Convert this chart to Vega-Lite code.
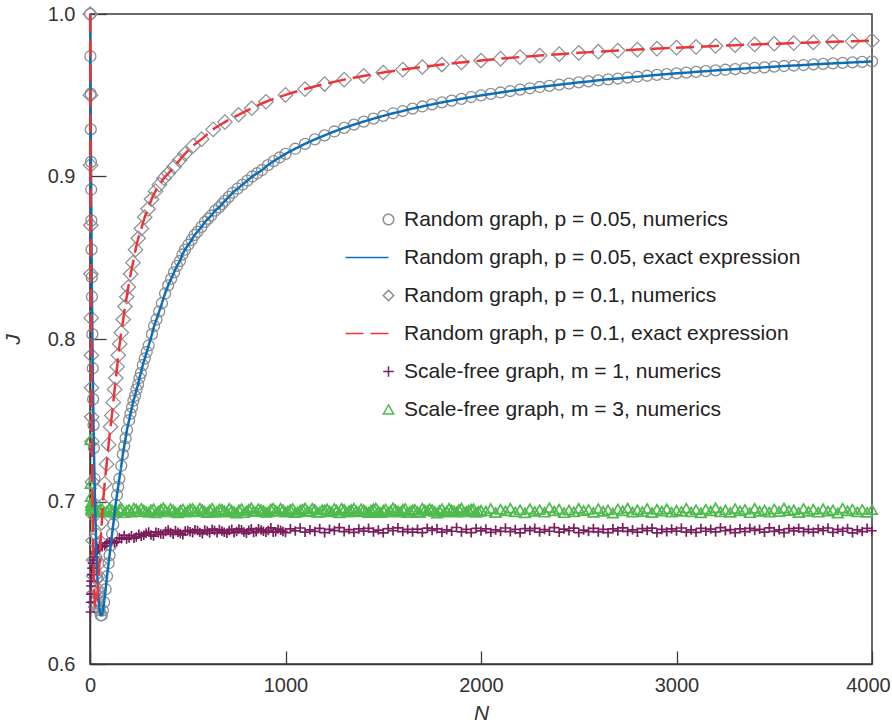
{
"$schema":"https://vega.github.io/schema/vega-lite/v6.json",
"width":782,"height":650,
"autosize":{"type":"none"},
"padding":{"left":90,"top":14,"right":20,"bottom":59},
"background":"white",
"config":{
"view":{"stroke":"#3a3a3a","strokeWidth":1.5},
"font":"Liberation Sans",
"axis":{"domainColor":"#3a3a3a","domainWidth":1.5,"tickColor":"#3a3a3a","tickWidth":1.3,"grid":false,"labelFont":"Liberation Sans","labelFontSize":20,"labelColor":"#333333","titleFont":"Liberation Sans","titleFontSize":21,"titleFontStyle":"italic","titleFontWeight":"normal","titleColor":"#333333"}
},
"datasets":{
"p05":[{"N":1,"J":1.0},{"N":2,"J":0.974},{"N":3,"J":0.951},{"N":4,"J":0.929},{"N":5,"J":0.909},{"N":6,"J":0.892},{"N":7,"J":0.873},{"N":8,"J":0.855},{"N":9,"J":0.838},{"N":10,"J":0.826},{"N":12,"J":0.803},{"N":14,"J":0.782},{"N":16,"J":0.763},{"N":18,"J":0.747},{"N":20,"J":0.733},{"N":23,"J":0.714},{"N":26,"J":0.698},{"N":30,"J":0.68},{"N":34,"J":0.665},{"N":38,"J":0.653},{"N":42,"J":0.644},{"N":46,"J":0.637},{"N":50,"J":0.633},{"N":55,"J":0.63},{"N":60,"J":0.63},{"N":66,"J":0.633},{"N":72,"J":0.638},{"N":80,"J":0.646},{"N":87,"J":0.654},{"N":95,"J":0.662},{"N":100,"J":0.667},{"N":106,"J":0.673},{"N":113,"J":0.68},{"N":119,"J":0.686},{"N":125,"J":0.692},{"N":131,"J":0.698},{"N":138,"J":0.704},{"N":144,"J":0.709},{"N":150,"J":0.714},{"N":160,"J":0.722},{"N":168,"J":0.729},{"N":175,"J":0.734},{"N":182,"J":0.739},{"N":189,"J":0.744},{"N":200,"J":0.75},{"N":207,"J":0.754},{"N":215,"J":0.758},{"N":222,"J":0.762},{"N":230,"J":0.765},{"N":238,"J":0.769},{"N":246,"J":0.772},{"N":253,"J":0.776},{"N":260,"J":0.779},{"N":270,"J":0.784},{"N":280,"J":0.788},{"N":290,"J":0.792},{"N":300,"J":0.796},{"N":317,"J":0.803},{"N":328,"J":0.808},{"N":340,"J":0.812},{"N":354,"J":0.817},{"N":368,"J":0.822},{"N":384,"J":0.828},{"N":400,"J":0.833},{"N":415,"J":0.837},{"N":430,"J":0.841},{"N":445,"J":0.845},{"N":460,"J":0.848},{"N":473,"J":0.852},{"N":486,"J":0.855},{"N":503,"J":0.858},{"N":520,"J":0.861},{"N":535,"J":0.864},{"N":550,"J":0.866},{"N":570,"J":0.869},{"N":588,"J":0.872},{"N":604,"J":0.874},{"N":620,"J":0.876},{"N":640,"J":0.879},{"N":660,"J":0.881},{"N":675,"J":0.883},{"N":690,"J":0.885},{"N":710,"J":0.8875},{"N":730,"J":0.89},{"N":755,"J":0.8925},{"N":780,"J":0.895},{"N":805,"J":0.8975},{"N":830,"J":0.9},{"N":855,"J":0.902},{"N":880,"J":0.904},{"N":910,"J":0.907},{"N":940,"J":0.9095},{"N":970,"J":0.9117},{"N":1000,"J":0.9139},{"N":1050,"J":0.9171},{"N":1100,"J":0.9201},{"N":1150,"J":0.9228},{"N":1200,"J":0.9253},{"N":1250,"J":0.9277},{"N":1300,"J":0.9299},{"N":1350,"J":0.9319},{"N":1400,"J":0.9338},{"N":1450,"J":0.9356},{"N":1500,"J":0.9373},{"N":1550,"J":0.9389},{"N":1600,"J":0.9403},{"N":1650,"J":0.9418},{"N":1700,"J":0.9431},{"N":1750,"J":0.9444},{"N":1800,"J":0.9456},{"N":1850,"J":0.9467},{"N":1900,"J":0.9478},{"N":1950,"J":0.9489},{"N":2000,"J":0.9499},{"N":2050,"J":0.9508},{"N":2100,"J":0.9517},{"N":2150,"J":0.9526},{"N":2200,"J":0.9535},{"N":2250,"J":0.9543},{"N":2300,"J":0.9551},{"N":2350,"J":0.9558},{"N":2400,"J":0.9565},{"N":2450,"J":0.9572},{"N":2500,"J":0.9579},{"N":2550,"J":0.9585},{"N":2600,"J":0.9592},{"N":2650,"J":0.9598},{"N":2700,"J":0.9603},{"N":2750,"J":0.9609},{"N":2800,"J":0.9614},{"N":2850,"J":0.962},{"N":2900,"J":0.9625},{"N":2950,"J":0.963},{"N":3000,"J":0.9635},{"N":3050,"J":0.9639},{"N":3100,"J":0.9644},{"N":3150,"J":0.9648},{"N":3200,"J":0.9653},{"N":3250,"J":0.9657},{"N":3300,"J":0.9661},{"N":3350,"J":0.9665},{"N":3400,"J":0.9669},{"N":3450,"J":0.9672},{"N":3500,"J":0.9676},{"N":3550,"J":0.968},{"N":3600,"J":0.9683},{"N":3650,"J":0.9686},{"N":3700,"J":0.969},{"N":3750,"J":0.9693},{"N":3800,"J":0.9696},{"N":3850,"J":0.9699},{"N":3900,"J":0.9702},{"N":3950,"J":0.9705},{"N":4000,"J":0.9708}],
"p10":[{"N":1,"J":1.0},{"N":2,"J":0.95},{"N":3,"J":0.907},{"N":4,"J":0.87},{"N":5,"J":0.84},{"N":6,"J":0.813},{"N":7,"J":0.79},{"N":8,"J":0.77},{"N":9,"J":0.752},{"N":10,"J":0.737},{"N":12,"J":0.712},{"N":14,"J":0.692},{"N":16,"J":0.676},{"N":18,"J":0.664},{"N":20,"J":0.654},{"N":23,"J":0.644},{"N":26,"J":0.638},{"N":30,"J":0.635},{"N":33,"J":0.636},{"N":36,"J":0.64},{"N":40,"J":0.646},{"N":44,"J":0.654},{"N":48,"J":0.662},{"N":54,"J":0.675},{"N":60,"J":0.687},{"N":66,"J":0.698},{"N":75,"J":0.711},{"N":85,"J":0.723},{"N":95,"J":0.735},{"N":105,"J":0.746},{"N":112,"J":0.753},{"N":119,"J":0.761},{"N":126,"J":0.769},{"N":132,"J":0.776},{"N":139,"J":0.783},{"N":145,"J":0.79},{"N":152,"J":0.797},{"N":160,"J":0.804},{"N":170,"J":0.812},{"N":179,"J":0.82},{"N":188,"J":0.826},{"N":196,"J":0.832},{"N":208,"J":0.84},{"N":220,"J":0.847},{"N":233,"J":0.855},{"N":247,"J":0.862},{"N":263,"J":0.868},{"N":280,"J":0.875},{"N":297,"J":0.88},{"N":315,"J":0.886},{"N":335,"J":0.891},{"N":355,"J":0.895},{"N":378,"J":0.899},{"N":401,"J":0.902},{"N":430,"J":0.906},{"N":458,"J":0.91},{"N":486,"J":0.914},{"N":528,"J":0.919},{"N":571,"J":0.923},{"N":630,"J":0.929},{"N":690,"J":0.9335},{"N":760,"J":0.938},{"N":827,"J":0.942},{"N":900,"J":0.946},{"N":1000,"J":0.9502},{"N":1100,"J":0.9538},{"N":1200,"J":0.9569},{"N":1300,"J":0.9596},{"N":1400,"J":0.9619},{"N":1500,"J":0.964},{"N":1600,"J":0.9658},{"N":1700,"J":0.9674},{"N":1800,"J":0.9689},{"N":1900,"J":0.9702},{"N":2000,"J":0.9714},{"N":2100,"J":0.9725},{"N":2200,"J":0.9735},{"N":2300,"J":0.9744},{"N":2400,"J":0.9753},{"N":2500,"J":0.9761},{"N":2600,"J":0.9768},{"N":2700,"J":0.9775},{"N":2800,"J":0.9781},{"N":2900,"J":0.9787},{"N":3000,"J":0.9793},{"N":3100,"J":0.9798},{"N":3200,"J":0.9803},{"N":3300,"J":0.9808},{"N":3400,"J":0.9813},{"N":3500,"J":0.9817},{"N":3600,"J":0.9821},{"N":3700,"J":0.9825},{"N":3800,"J":0.9829},{"N":3900,"J":0.9832},{"N":4000,"J":0.9836}],
"sf1":[{"N":2,"J":0.632},{"N":3,"J":0.638},{"N":4,"J":0.643},{"N":5,"J":0.648},{"N":6,"J":0.651},{"N":8,"J":0.655},{"N":10,"J":0.659},{"N":13,"J":0.662},{"N":16,"J":0.664},{"N":20,"J":0.666},{"N":25,"J":0.668},{"N":30,"J":0.669},{"N":35,"J":0.67},{"N":40,"J":0.671},{"N":50,"J":0.6732},{"N":75,"J":0.6727},{"N":100,"J":0.6753},{"N":125,"J":0.6745},{"N":150,"J":0.6777},{"N":175,"J":0.6791},{"N":200,"J":0.6776},{"N":225,"J":0.6774},{"N":250,"J":0.6799},{"N":275,"J":0.6793},{"N":300,"J":0.6812},{"N":325,"J":0.6787},{"N":350,"J":0.6808},{"N":375,"J":0.6798},{"N":400,"J":0.6825},{"N":425,"J":0.6798},{"N":450,"J":0.6811},{"N":475,"J":0.6795},{"N":500,"J":0.6822},{"N":525,"J":0.6808},{"N":550,"J":0.6821},{"N":575,"J":0.6802},{"N":600,"J":0.6819},{"N":625,"J":0.683},{"N":650,"J":0.6807},{"N":675,"J":0.6819},{"N":700,"J":0.6804},{"N":725,"J":0.6829},{"N":750,"J":0.6816},{"N":775,"J":0.6826},{"N":800,"J":0.6804},{"N":825,"J":0.6832},{"N":850,"J":0.6814},{"N":875,"J":0.6825},{"N":900,"J":0.681},{"N":925,"J":0.6838},{"N":950,"J":0.6814},{"N":975,"J":0.6823},{"N":1000,"J":0.6809},{"N":1025,"J":0.6832},{"N":1050,"J":0.6819},{"N":1075,"J":0.6837},{"N":1100,"J":0.6811},{"N":1125,"J":0.6826},{"N":1150,"J":0.6816},{"N":1175,"J":0.6834},{"N":1200,"J":0.6808},{"N":1225,"J":0.6829},{"N":1250,"J":0.6821},{"N":1275,"J":0.6839},{"N":1300,"J":0.6814},{"N":1325,"J":0.6827},{"N":1350,"J":0.681},{"N":1375,"J":0.6831},{"N":1400,"J":0.6818},{"N":1425,"J":0.6835},{"N":1450,"J":0.6813},{"N":1475,"J":0.6824},{"N":1500,"J":0.6807},{"N":1525,"J":0.6833},{"N":1550,"J":0.682},{"N":1575,"J":0.6838},{"N":1600,"J":0.6815},{"N":1625,"J":0.6828},{"N":1650,"J":0.6812},{"N":1675,"J":0.683},{"N":1700,"J":0.6809},{"N":1725,"J":0.6836},{"N":1750,"J":0.6822},{"N":1775,"J":0.6832},{"N":1800,"J":0.6811},{"N":1825,"J":0.6826},{"N":1850,"J":0.6817},{"N":1875,"J":0.684},{"N":1900,"J":0.6813},{"N":1925,"J":0.6829},{"N":1950,"J":0.6808},{"N":1975,"J":0.6834},{"N":2000,"J":0.6819},{"N":2025,"J":0.6831},{"N":2050,"J":0.681},{"N":2075,"J":0.6825},{"N":2100,"J":0.6816},{"N":2125,"J":0.6837},{"N":2150,"J":0.6814},{"N":2175,"J":0.6828},{"N":2200,"J":0.6807},{"N":2225,"J":0.6833},{"N":2250,"J":0.6821},{"N":2275,"J":0.6835},{"N":2300,"J":0.6812},{"N":2325,"J":0.6827},{"N":2350,"J":0.6817},{"N":2375,"J":0.6839},{"N":2400,"J":0.6811},{"N":2425,"J":0.683},{"N":2450,"J":0.682},{"N":2475,"J":0.6836},{"N":2500,"J":0.6809},{"N":2525,"J":0.6824},{"N":2550,"J":0.6815},{"N":2575,"J":0.6834},{"N":2600,"J":0.6813},{"N":2625,"J":0.6829},{"N":2650,"J":0.6808},{"N":2675,"J":0.6832},{"N":2700,"J":0.6819},{"N":2725,"J":0.6838},{"N":2750,"J":0.6816},{"N":2775,"J":0.6826},{"N":2800,"J":0.6811},{"N":2825,"J":0.6833},{"N":2850,"J":0.6821},{"N":2875,"J":0.6836},{"N":2900,"J":0.6807},{"N":2925,"J":0.6828},{"N":2950,"J":0.6814},{"N":2975,"J":0.6831},{"N":3000,"J":0.6818},{"N":3025,"J":0.6837},{"N":3050,"J":0.6812},{"N":3075,"J":0.6825},{"N":3100,"J":0.681},{"N":3125,"J":0.6834},{"N":3150,"J":0.6817},{"N":3175,"J":0.683},{"N":3200,"J":0.6813},{"N":3225,"J":0.6839},{"N":3250,"J":0.682},{"N":3275,"J":0.6827},{"N":3300,"J":0.6809},{"N":3325,"J":0.6832},{"N":3350,"J":0.6815},{"N":3375,"J":0.6835},{"N":3400,"J":0.6822},{"N":3425,"J":0.6829},{"N":3450,"J":0.6811},{"N":3475,"J":0.6838},{"N":3500,"J":0.6816},{"N":3525,"J":0.6826},{"N":3550,"J":0.6808},{"N":3575,"J":0.6833},{"N":3600,"J":0.6819},{"N":3625,"J":0.6836},{"N":3650,"J":0.6814},{"N":3675,"J":0.6828},{"N":3700,"J":0.6812},{"N":3725,"J":0.6831},{"N":3750,"J":0.6821},{"N":3775,"J":0.6837},{"N":3800,"J":0.681},{"N":3825,"J":0.6829},{"N":3850,"J":0.6817},{"N":3875,"J":0.6834},{"N":3900,"J":0.6807},{"N":3925,"J":0.6825},{"N":3950,"J":0.6815},{"N":3975,"J":0.6835},{"N":4000,"J":0.682},
{"N":62,"J":0.6721},{"N":87,"J":0.6744},{"N":112,"J":0.6758},{"N":137,"J":0.6752},{"N":162,"J":0.677},{"N":187,"J":0.6769},{"N":212,"J":0.679},{"N":237,"J":0.6781},{"N":262,"J":0.6786},{"N":287,"J":0.6805},{"N":312,"J":0.6794},{"N":337,"J":0.6811},{"N":362,"J":0.68},{"N":387,"J":0.6815},{"N":412,"J":0.6809},{"N":437,"J":0.6821},{"N":462,"J":0.6803},{"N":487,"J":0.6818},{"N":512,"J":0.6814},{"N":537,"J":0.6826},{"N":562,"J":0.681},{"N":587,"J":0.6824},{"N":612,"J":0.6806},{"N":637,"J":0.6821},{"N":662,"J":0.6827},{"N":687,"J":0.6811},{"N":712,"J":0.6822},{"N":737,"J":0.6808},{"N":762,"J":0.6831},{"N":787,"J":0.6813},{"N":812,"J":0.6823},{"N":837,"J":0.6809},{"N":862,"J":0.6833},{"N":887,"J":0.6817},{"N":912,"J":0.6822},{"N":937,"J":0.6811},{"N":962,"J":0.683},{"N":987,"J":0.6816}],
"sf3":[{"N":2,"J":0.738},{"N":3,"J":0.711},{"N":4,"J":0.703},{"N":5,"J":0.699},{"N":6,"J":0.6975},{"N":8,"J":0.696},{"N":10,"J":0.6955},{"N":13,"J":0.695},{"N":16,"J":0.6958},{"N":20,"J":0.694},{"N":25,"J":0.6952},{"N":30,"J":0.6938},{"N":40,"J":0.6948},{"N":50,"J":0.6949},{"N":75,"J":0.6934},{"N":100,"J":0.6958},{"N":125,"J":0.6943},{"N":150,"J":0.6953},{"N":175,"J":0.6931},{"N":200,"J":0.6951},{"N":225,"J":0.696},{"N":250,"J":0.6938},{"N":275,"J":0.6947},{"N":300,"J":0.6933},{"N":325,"J":0.6955},{"N":350,"J":0.6941},{"N":375,"J":0.6961},{"N":400,"J":0.6936},{"N":425,"J":0.6948},{"N":450,"J":0.693},{"N":475,"J":0.6954},{"N":500,"J":0.6944},{"N":525,"J":0.6957},{"N":550,"J":0.6937},{"N":575,"J":0.695},{"N":600,"J":0.6932},{"N":625,"J":0.6959},{"N":650,"J":0.694},{"N":675,"J":0.6952},{"N":700,"J":0.6935},{"N":725,"J":0.6946},{"N":750,"J":0.6929},{"N":775,"J":0.6956},{"N":800,"J":0.6942},{"N":825,"J":0.6962},{"N":850,"J":0.6939},{"N":875,"J":0.6949},{"N":900,"J":0.6933},{"N":925,"J":0.6954},{"N":950,"J":0.6943},{"N":975,"J":0.6958},{"N":1000,"J":0.6935},{"N":1025,"J":0.6951},{"N":1050,"J":0.6931},{"N":1075,"J":0.6947},{"N":1100,"J":0.696},{"N":1125,"J":0.6938},{"N":1150,"J":0.6953},{"N":1175,"J":0.6934},{"N":1200,"J":0.6948},{"N":1225,"J":0.6941},{"N":1250,"J":0.6957},{"N":1275,"J":0.693},{"N":1300,"J":0.6952},{"N":1325,"J":0.6944},{"N":1350,"J":0.6959},{"N":1375,"J":0.6936},{"N":1400,"J":0.695},{"N":1425,"J":0.6932},{"N":1450,"J":0.6955},{"N":1475,"J":0.6939},{"N":1500,"J":0.6947},{"N":1525,"J":0.6934},{"N":1550,"J":0.6961},{"N":1575,"J":0.6942},{"N":1600,"J":0.6953},{"N":1625,"J":0.6931},{"N":1650,"J":0.6949},{"N":1675,"J":0.6937},{"N":1700,"J":0.6958},{"N":1725,"J":0.6943},{"N":1750,"J":0.6951},{"N":1775,"J":0.6929},{"N":1800,"J":0.6956},{"N":1825,"J":0.694},{"N":1850,"J":0.6948},{"N":1875,"J":0.6935},{"N":1900,"J":0.696},{"N":1925,"J":0.6938},{"N":1950,"J":0.6954},{"N":1975,"J":0.6933},{"N":2000,"J":0.6946},{"N":2025,"J":0.6941},{"N":2050,"J":0.6957},{"N":2075,"J":0.6932},{"N":2100,"J":0.6952},{"N":2125,"J":0.6943},{"N":2150,"J":0.6959},{"N":2175,"J":0.6936},{"N":2200,"J":0.6949},{"N":2225,"J":0.693},{"N":2250,"J":0.6955},{"N":2275,"J":0.6939},{"N":2300,"J":0.695},{"N":2325,"J":0.6934},{"N":2350,"J":0.6962},{"N":2375,"J":0.6942},{"N":2400,"J":0.6953},{"N":2425,"J":0.6931},{"N":2450,"J":0.6947},{"N":2475,"J":0.6937},{"N":2500,"J":0.6958},{"N":2525,"J":0.6944},{"N":2550,"J":0.6951},{"N":2575,"J":0.6933},{"N":2600,"J":0.6956},{"N":2625,"J":0.694},{"N":2650,"J":0.6948},{"N":2675,"J":0.6929},{"N":2700,"J":0.6954},{"N":2725,"J":0.6943},{"N":2750,"J":0.696},{"N":2775,"J":0.6935},{"N":2800,"J":0.6949},{"N":2825,"J":0.6938},{"N":2850,"J":0.6957},{"N":2875,"J":0.6932},{"N":2900,"J":0.6952},{"N":2925,"J":0.6941},{"N":2950,"J":0.6955},{"N":2975,"J":0.6934},{"N":3000,"J":0.6946},{"N":3025,"J":0.6939},{"N":3050,"J":0.6959},{"N":3075,"J":0.6936},{"N":3100,"J":0.695},{"N":3125,"J":0.693},{"N":3150,"J":0.6953},{"N":3175,"J":0.6942},{"N":3200,"J":0.6961},{"N":3225,"J":0.6937},{"N":3250,"J":0.6948},{"N":3275,"J":0.6933},{"N":3300,"J":0.6956},{"N":3325,"J":0.6943},{"N":3350,"J":0.6951},{"N":3375,"J":0.6931},{"N":3400,"J":0.6958},{"N":3425,"J":0.694},{"N":3450,"J":0.6947},{"N":3475,"J":0.6935},{"N":3500,"J":0.6954},{"N":3525,"J":0.6938},{"N":3550,"J":0.696},{"N":3575,"J":0.6944},{"N":3600,"J":0.6949},{"N":3625,"J":0.6932},{"N":3650,"J":0.6957},{"N":3675,"J":0.6939},{"N":3700,"J":0.6952},{"N":3725,"J":0.6934},{"N":3750,"J":0.6955},{"N":3775,"J":0.6941},{"N":3800,"J":0.6948},{"N":3825,"J":0.6929},{"N":3850,"J":0.6959},{"N":3875,"J":0.6943},{"N":3900,"J":0.6953},{"N":3925,"J":0.6936},{"N":3950,"J":0.6951},{"N":3975,"J":0.6933},{"N":4000,"J":0.695},
{"N":62,"J":0.6956},{"N":87,"J":0.6941},{"N":112,"J":0.6948},{"N":137,"J":0.6932},{"N":162,"J":0.6957},{"N":187,"J":0.6944},{"N":212,"J":0.6935},{"N":237,"J":0.6953},{"N":262,"J":0.6958},{"N":287,"J":0.6939},{"N":312,"J":0.695},{"N":337,"J":0.693},{"N":362,"J":0.6952},{"N":387,"J":0.6945},{"N":412,"J":0.6957},{"N":437,"J":0.6936},{"N":462,"J":0.6946},{"N":487,"J":0.6934},{"N":512,"J":0.6955},{"N":537,"J":0.6941},{"N":562,"J":0.696},{"N":587,"J":0.6938},{"N":612,"J":0.6948},{"N":637,"J":0.6933},{"N":662,"J":0.6954},{"N":687,"J":0.6943},{"N":712,"J":0.6958},{"N":737,"J":0.6937},{"N":762,"J":0.695},{"N":787,"J":0.6931},{"N":812,"J":0.6953},{"N":837,"J":0.694},{"N":862,"J":0.6956},{"N":887,"J":0.6944},{"N":912,"J":0.6936},{"N":937,"J":0.6959},{"N":962,"J":0.6939},{"N":987,"J":0.695},{"N":1012,"J":0.6942},{"N":1037,"J":0.6957},{"N":1062,"J":0.6936},{"N":1087,"J":0.6953},{"N":1112,"J":0.694},{"N":1137,"J":0.6958},{"N":1162,"J":0.6933},{"N":1187,"J":0.6949},{"N":1212,"J":0.6955},{"N":1237,"J":0.6937},{"N":1262,"J":0.6946},{"N":1287,"J":0.6959},{"N":1312,"J":0.6934},{"N":1337,"J":0.6951},{"N":1362,"J":0.6941},{"N":1387,"J":0.6956},{"N":1412,"J":0.6938},{"N":1437,"J":0.6947},{"N":1462,"J":0.696},{"N":1487,"J":0.6932},{"N":1512,"J":0.6954},{"N":1537,"J":0.6943},{"N":1562,"J":0.6949},{"N":1587,"J":0.6935},{"N":1612,"J":0.6957},{"N":1637,"J":0.694},{"N":1662,"J":0.6952},{"N":1687,"J":0.6931},{"N":1712,"J":0.6948},{"N":1737,"J":0.6956},{"N":1762,"J":0.6939},{"N":1787,"J":0.6945},{"N":1812,"J":0.6934},{"N":1837,"J":0.6958},{"N":1862,"J":0.6942},{"N":1887,"J":0.6951},{"N":1912,"J":0.6936},{"N":1937,"J":0.6947},{"N":1962,"J":0.6955},{"N":1987,"J":0.694}]
},
"encoding":{
"x":{"field":"N","type":"quantitative","scale":{"domain":[0,4000],"nice":false,"zero":false},"axis":{"title":"N","values":[0,1000,2000,3000,4000],"format":"d","tickSize":-13,"labelPadding":24,"titlePadding":7,"labelFlush":false,"labelOffset":{"condition":{"test":"datum.value == 4000","value":-4},"value":0}}},
"y":{"field":"J","type":"quantitative","scale":{"domain":[0.6,1.0],"nice":false,"zero":false},"axis":{"title":"J","values":[0.6,0.7,0.8,0.9,1.0],"format":".1f","tickSize":-16,"labelPadding":31,"titlePadding":24}}
},
"layer":[
{"data":{"name":"p05"},"mark":{"type":"point","filled":false,"size":120,"strokeWidth":1.3,"opacity":1},
"encoding":{
"color":{"datum":"Random graph, p = 0.05, numerics","type":"nominal","scale":{"domain":["Random graph, p = 0.05, numerics","Random graph, p = 0.05, exact expression","Random graph, p = 0.1, numerics","Random graph, p = 0.1, exact expression","Scale-free graph, m = 1, numerics","Scale-free graph, m = 3, numerics"],"range":["#8a8d91","#0b6fb8","#8a8d91","#ee3438","#7a1e5e","#4fba4d"]},
"legend":{"title":null,"orient":"none","legendX":288,"legendY":195,"padding":0,"symbolSize":110,"labelFontSize":21,"labelFont":"Liberation Sans","labelColor":"#222222","labelOffset":5,"rowPadding":16,"labelLimit":700,"symbolStrokeWidth":1.5}},
"shape":{"datum":"Random graph, p = 0.05, numerics","type":"nominal","scale":{"domain":["Random graph, p = 0.05, numerics","Random graph, p = 0.05, exact expression","Random graph, p = 0.1, numerics","Random graph, p = 0.1, exact expression","Scale-free graph, m = 1, numerics","Scale-free graph, m = 3, numerics"],"range":["circle","M-8.2,0H0","diamond","M-8.2,0H0","M-1,0H1M0,-1V1","triangle-up"]},
"legend":{"title":null,"orient":"none","legendX":288,"legendY":195,"padding":0,"symbolSize":110,"labelFontSize":21,"labelFont":"Liberation Sans","labelColor":"#222222","labelOffset":5,"rowPadding":16,"labelLimit":700,"symbolStrokeWidth":1.5}}}},
{"data":{"name":"p10"},"mark":{"type":"point","filled":false,"size":210,"strokeWidth":1.2,"opacity":1},
"encoding":{"color":{"datum":"Random graph, p = 0.1, numerics","type":"nominal"},"shape":{"datum":"Random graph, p = 0.1, numerics","type":"nominal"}}},
{"data":{"name":"sf1"},"mark":{"type":"point","filled":false,"size":90,"strokeWidth":1.7,"opacity":1},
"encoding":{"color":{"datum":"Scale-free graph, m = 1, numerics","type":"nominal"},"shape":{"datum":"Scale-free graph, m = 1, numerics","type":"nominal"}}},
{"data":{"name":"sf3"},"mark":{"type":"point","filled":false,"size":110,"strokeWidth":1.7,"opacity":1},
"encoding":{"color":{"datum":"Scale-free graph, m = 3, numerics","type":"nominal"},"shape":{"datum":"Scale-free graph, m = 3, numerics","type":"nominal"}}},
{"data":{"name":"p05"},"mark":{"type":"line","strokeWidth":2.5,"interpolate":"monotone"},
"encoding":{"color":{"datum":"Random graph, p = 0.05, exact expression","type":"nominal"},
"strokeDash":{"datum":"Random graph, p = 0.05, exact expression","type":"nominal","scale":{"domain":["Random graph, p = 0.05, numerics","Random graph, p = 0.05, exact expression","Random graph, p = 0.1, numerics","Random graph, p = 0.1, exact expression","Scale-free graph, m = 1, numerics","Scale-free graph, m = 3, numerics"],"range":[[1,0],[1,0],[1,0],[18,7],[1,0],[1,0]]},"legend":{"title":null,"orient":"none","legendX":288,"legendY":195,"padding":0,"symbolSize":110,"labelFontSize":21,"labelFont":"Liberation Sans","labelColor":"#222222","labelOffset":5,"rowPadding":16,"labelLimit":700,"symbolStrokeWidth":1.5}}}},
{"data":{"name":"p10"},"mark":{"type":"line","strokeWidth":2.5,"interpolate":"monotone"},
"encoding":{"color":{"datum":"Random graph, p = 0.1, exact expression","type":"nominal"},"strokeDash":{"datum":"Random graph, p = 0.1, exact expression","type":"nominal"}}}
]
}
